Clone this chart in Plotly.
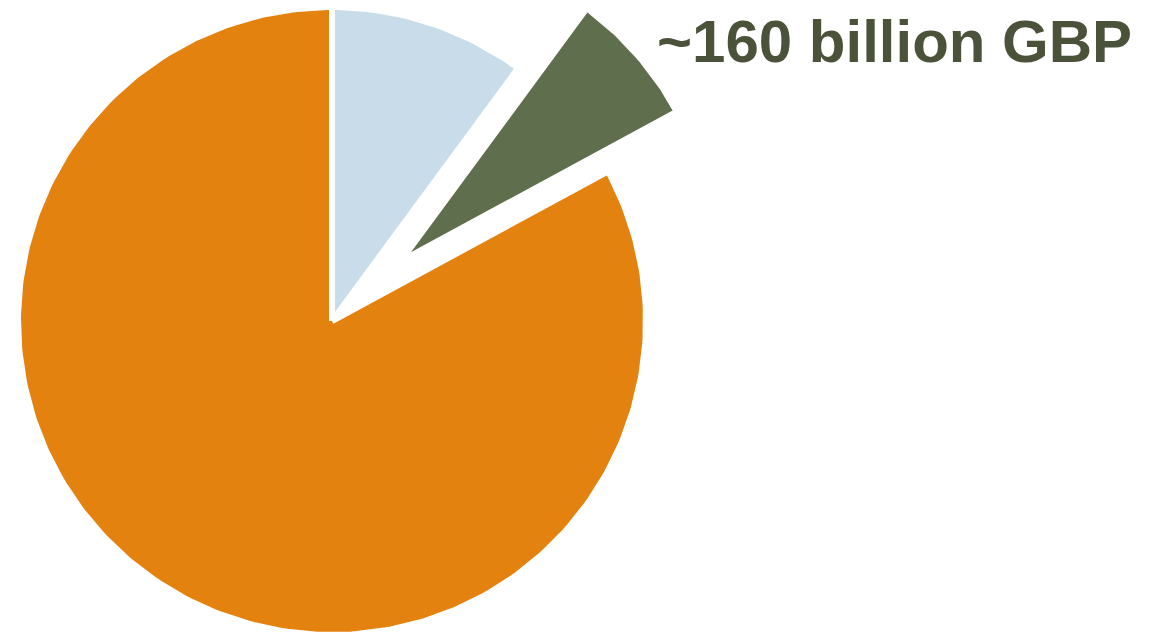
import numpy as np
import plotly.graph_objects as go

# ---- data ----
categories = ["Segment A", "Segment B", "Segment C"]
shares = [10.1, 7.0, 82.9]          # percent of total
pulls = [0.0, 0.29, 0.0]            # fraction of radius the slice is pulled out
colors = ["#C9DCEA", "#5F6E4C", "#E4820F"]
label_text = "~160 billion GBP"

# ---- layout constants (pixels; page body adds an 8px offset) ----
W, H = 1160, 635
OFF = 8
CX, CY, R = 332 - OFF, 321 - OFF, 314

# ---- build slices from the data (clockwise from 12 o'clock) ----
total = float(sum(shares))
bounds = np.concatenate([[0.0], np.cumsum(shares)]) / total * 2 * np.pi

fig = go.Figure()
for i, cat in enumerate(categories):
    t0, t1 = bounds[i], bounds[i + 1]
    mid = (t0 + t1) / 2
    ax, ay = pulls[i] * np.sin(mid), pulls[i] * np.cos(mid)
    n = max(8, int((t1 - t0) / (2 * np.pi) * 400))
    t = np.linspace(t0, t1, n)
    xs = np.concatenate([[ax], ax + np.sin(t), [ax]])
    ys = np.concatenate([[ay], ay + np.cos(t), [ay]])
    fig.add_trace(go.Scatter(
        x=xs, y=ys, mode="lines", fill="toself",
        fillcolor=colors[i], line=dict(color="white", width=6),
        name=cat, hoverinfo="name", showlegend=False,
    ))

fig.add_annotation(
    text=label_text, xref="paper", yref="paper",
    x=(894.5 - OFF) / W, y=1 - (42 - OFF) / H, xanchor="center", yanchor="middle",
    showarrow=False,
    font=dict(family="Liberation Sans, Arial, sans-serif", size=60,
              color="#4B523A", weight="bold"),
)

fig.update_layout(
    width=W, height=H,
    margin=dict(l=0, r=0, t=0, b=0),
    paper_bgcolor="white", plot_bgcolor="white",
    xaxis=dict(range=[-CX / R, (W - CX) / R], visible=False, fixedrange=True),
    yaxis=dict(range=[-(H - CY) / R, CY / R], visible=False, fixedrange=True),
    showlegend=False,
)

fig.write_html("out.html")
